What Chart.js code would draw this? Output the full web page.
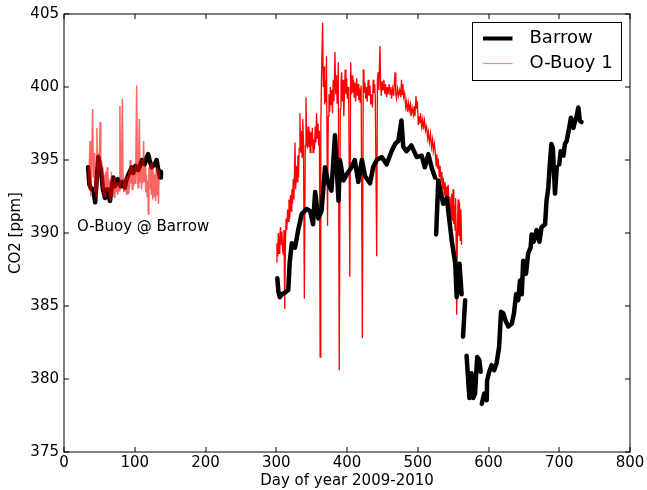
<!DOCTYPE html>
<html>
<head>
<meta charset="utf-8">
<script src="https://cdn.jsdelivr.net/npm/chart.js@4"></script>
<style>
    body { margin: 0; background: #fff; }
    #co2Chart { display: block; }
</style>
</head>
<body>
<canvas id="co2Chart" width="647" height="490"></canvas>
<script>

/* ================= DATA ================= */
const xTicks = [0, 100, 200, 300, 400, 500, 600, 700, 800];
const yTicks = [375, 380, 385, 390, 395, 400, 405];

// Barrow station, null = gap in record
const barrowDays = [
    34, 36, 39, 41.5, 44, 46, 48.5, 51, 53, 55, 58, 61, 65, 67, 69.7, 72, 76, 80, 83, 86,
    88, 91, 95.6, 98, 101, 105, 108, 110, 114, 117, 119, 122, 124, 128, 131, 133, 135.7, 137,
    200,
    301.5, 303, 305, 308, 312, 317, 319, 322, 326.5, 331, 336, 343, 348, 352, 355, 359.5,
    364, 369, 373.5, 378, 383, 388, 390, 395, 399.5, 406.5, 411, 416, 421, 425.5, 432.5,
    437, 442, 449, 456, 463, 468, 472.5, 477, 479.5, 484, 491, 498.5, 505.5, 510, 515,
    519.5, 524.5,
    525.3,
    526, 529, 536, 541, 548, 553, 555, 559, 562,
    563,
    564, 567,
    568,
    569, 573, 576, 578.5, 581, 584, 587, 589,
    589.8,
    590.5, 594, 597.5, 598, 601, 604.5, 608, 611.5, 615, 617.7, 621, 624, 628, 633, 636,
    639, 642, 644.5, 647, 649, 653, 656, 659.5, 661, 664, 668, 672, 675, 680, 682, 684.5,
    687, 689, 691, 694, 696.5,
    698,
    700, 702, 706, 708, 710.5, 714, 716.5, 720, 722, 724.5, 727, 729, 731.5
];
const barrowCO2 = [
    394.5, 393.3, 393.0, 393.0, 392.1, 393.5, 395.2, 394.6, 394.0, 393.0, 392.4, 393.0, 392.2, 393.0, 393.8, 393.2, 393.7, 393.2, 393.5, 393.1,
    393.6, 394.0, 394.5, 394.1, 394.6, 394.3, 394.7, 395.0, 394.7, 395.2, 395.4, 394.8, 394.5, 394.7, 395.0, 394.4, 393.8, 394.2,
    null,
    386.9, 386.0, 385.6, 385.8, 385.9, 386.1, 388.0, 389.3, 389.0, 390.2, 391.3, 391.65, 391.5, 390.6, 392.8, 391.0,
    391.5, 394.5, 393.4, 392.9, 396.7, 392.2, 395.0, 393.6, 394.0, 394.5, 395.0, 393.5, 395.0, 393.9, 393.4,
    394.5, 395.0, 395.2, 394.7, 395.6, 396.1, 396.3, 397.7, 395.9, 395.6, 396.0, 395.2, 395.3, 394.5, 395.4,
    394.5, 393.8,
    null,
    389.9, 393.6, 392.0, 392.4, 389.5, 387.9, 385.6, 387.9, 385.8,
    null,
    382.9, 385.4,
    null,
    381.6, 378.7, 380.4, 378.7, 379.0, 381.5, 381.3, 380.5,
    null,
    378.3, 379.0, 378.55, 379.9, 380.5, 380.95, 380.6, 381.1, 382.2, 384.6, 384.5, 384.0, 383.6, 383.8, 384.5,
    385.8, 385.4, 386.75, 385.8, 388.1, 387.2, 388.6, 389.0, 389.9, 389.4, 390.2, 389.4, 390.4, 390.6, 392.2, 393.1,
    394.95, 396.1, 395.8, 392.7, 394.5,
    null,
    394.7, 395.6, 395.3, 396.1, 396.3, 397.2, 397.9, 397.2, 397.6, 398.0, 398.6, 397.7, 397.6
];

// O-Buoy 1 while co-located at Barrow
const buoyBarrowDays = [
    34, 35, 36, 37, 38, 39, 40.5, 41.5, 42.5, 43.5, 44.5, 45.5, 46.5, 47.5, 48.5, 49.5, 51, 52, 53, 54,
    55, 56, 57, 58, 59, 60, 61, 62, 63, 64, 65, 66, 67, 68, 69, 70, 71, 72, 73, 74,
    75, 76, 77, 78, 79, 80, 81, 82.5, 83.5, 84.5, 85.5, 86.5, 87.5, 88.5, 89.5, 90.5, 91.5, 92.5, 93.5, 94.5,
    95.5, 96.5, 97.5, 98.5, 99.5, 100.5, 101.5, 102.7, 103.7, 104.7, 105.7, 106.5, 107.5, 108.5, 109.5, 110.5, 111.5, 112.5, 113.5, 114.5,
    115.5, 116.5, 117.5, 118.5, 119.2, 120, 121.5, 122.5, 123.5, 124.5, 125.5, 126.5, 127.5, 128.5, 129.5, 130.5, 131.5, 132.5, 133.5, 134.5,
    135.7
];
const buoyBarrowCO2 = [
    394.5, 393.0, 395.0, 396.3, 392.5, 394.5, 398.5, 393.8, 395.5, 392.8, 394.0, 392.5, 397.2, 393.0, 395.5, 393.8, 397.6, 394.2, 395.0, 393.0,
    394.5, 392.5, 394.0, 392.5, 394.2, 393.0, 394.5, 392.8, 393.8, 392.4, 393.6, 392.2, 394.2, 392.6, 393.5, 392.5, 393.8, 392.4, 393.4, 392.8,
    393.5, 392.6, 393.4, 392.9, 398.7, 393.0, 393.6, 399.2, 393.4, 392.8, 393.8, 392.9, 393.8, 392.6, 393.9, 392.7, 394.2, 393.0, 395.0, 393.4,
    394.5, 393.0, 394.6, 393.2, 394.5, 393.4, 394.8, 400.1, 394.0, 393.1, 395.5, 397.8, 393.5, 394.5, 393.0, 395.0, 393.4, 396.3, 393.5, 394.6,
    392.8, 394.0, 392.5, 393.6, 391.3, 394.5, 393.0, 394.8, 392.6, 394.8, 392.3, 394.2, 392.5, 394.0, 392.2, 394.5, 392.6, 394.4, 392.0, 394.3,
    393.8
];

// O-Buoy 1 deployed on the ice
const buoyIceDays = [
    300, 301, 302, 303, 304, 305, 306, 307, 308, 309, 310, 311, 312, 313, 314, 315, 316, 317, 318, 319,
    320, 321, 322, 323, 324, 325, 326.5, 327.5, 328.5, 329.5, 330.5, 331.5, 332.5, 333.5, 334.5, 335.5, 336.5, 337.5, 338.5, 339.7,
    341, 342, 343, 344, 345, 346, 347, 348, 349, 350, 351, 352, 353, 354, 355, 356, 357, 358, 359, 360,
    361, 362, 363, 364, 365.5, 366.5, 367.5, 368.5, 369.5, 370.5, 371, 372.5, 373.5, 374.5, 375.5, 376.5, 377.5, 378.5, 379.5, 380.5,
    381.5, 383, 384, 385, 386, 387, 387.7, 389, 390.5, 391.5, 392.5, 393.5, 394.5, 395.5, 396.5, 397.5, 398.5, 399.5, 400.5, 401.5,
    402.5, 404, 405.2, 406.2, 407.2, 408.2, 409.2, 410.2, 411.2, 412.2, 413.7, 414.7, 415.7, 416.7, 417.7, 418.7, 420, 421.7, 423, 424,
    425.4, 426.5, 427.5, 428.5, 430, 431, 432.5, 433.5, 435, 436, 437, 438, 439, 440, 442, 443, 444, 445, 446.6, 447.6,
    448.5, 449.5, 451, 452, 453.5, 454.5, 456, 457, 458, 459.5, 460.8, 462, 463, 464.5, 466, 467, 468, 469, 470, 471.5,
    473, 474.5, 476, 477, 478, 479, 480, 481.5, 483, 484.4, 485.5, 487, 488, 489.5, 490.5, 492, 493.7, 495, 496, 497.5,
    498.5, 499.5, 500.8, 502, 503, 504, 505.5, 507, 508, 509.5, 511, 512.5, 514, 515, 516.5, 518, 519.5, 521, 522, 523.5,
    524.5, 526, 527, 528, 529, 530.5, 531.5, 533, 534, 535, 536, 537.5, 538.5, 540, 541, 542, 543, 544.5, 545.5, 547,
    548, 549, 550, 551, 552, 552.7, 553.5, 554.3, 555, 556, 557, 558, 559, 560, 561, 562
];
const buoyIceCO2 = [
    388.0, 389.3, 388.4, 390.0, 388.6, 389.6, 390.4, 389.2, 390.1, 388.8, 388.5, 390.2, 384.8, 389.5, 391.0, 390.2, 391.6, 390.8, 392.3, 391.0,
    392.6, 391.5, 393.0, 392.0, 393.7, 392.3, 396.2, 393.0, 394.6, 393.5, 395.3, 393.8, 395.8, 398.2, 395.5, 397.0, 395.2, 397.8, 396.3, 385.5,
    396.0, 399.3, 396.5, 395.8, 397.3, 395.9, 397.0, 395.5, 396.9, 396.0, 397.2, 395.5, 396.4, 395.7, 397.3, 396.2, 398.2, 396.5, 397.5, 396.0,
    397.0, 381.5, 397.2, 400.8, 404.4, 400.0, 401.4, 398.8, 400.5, 399.0, 402.1, 390.5, 398.0, 399.5, 398.3, 400.0, 398.8, 399.8, 398.2, 400.5,
    399.0, 402.4, 399.5, 400.8, 398.9, 400.2, 401.7, 380.6, 398.5, 400.3, 401.0, 399.0, 400.5, 398.0, 399.8, 401.2, 399.5, 400.6, 399.2, 400.0,
    398.8, 387.0, 401.7, 399.5, 400.8, 399.6, 400.5, 399.3, 400.3, 399.0, 400.6, 399.4, 400.2, 399.1, 399.9, 398.9, 400.1, 382.8, 401.2, 399.6,
    400.3, 399.2, 400.0, 399.0, 400.5, 399.4, 400.1, 398.8, 399.5, 398.6, 400.5, 399.6, 400.2, 399.3, 388.4, 400.5, 401.0, 399.8, 402.8, 400.0,
    399.4, 400.4, 399.8, 400.5, 399.5, 400.2, 399.3, 400.0, 399.5, 400.2, 399.5, 400.0, 399.2, 399.9, 399.4, 400.3, 401.0, 399.5, 399.2, 399.9,
    399.4, 399.8, 399.3, 400.5, 399.5, 400.2, 399.3, 399.6, 398.6, 399.0, 398.3, 398.9, 398.4, 398.8, 398.0, 398.6, 398.1, 398.7, 398.0, 399.4,
    398.5, 399.0, 397.4, 398.0, 397.5, 398.2, 397.3, 397.8, 397.1, 397.7, 397.0, 397.3, 396.5, 396.9, 396.2, 396.8, 395.9, 396.4, 395.6, 396.1,
    395.7, 394.6, 395.4, 394.4, 395.1, 393.8, 394.6, 393.5, 394.2, 393.0, 393.8, 392.6, 393.5, 392.4, 393.2, 391.8, 393.3, 391.6, 392.5, 391.0,
    392.7, 390.8, 393.0, 390.6, 391.9, 390.2, 392.4, 389.5, 384.4, 390.0, 392.3, 389.8, 392.1, 389.5, 391.6, 389.2
];

const annotationText = "O-Buoy @ Barrow";
const legendLabels = ["Barrow", "O-Buoy 1"];

/* ================= HELPERS ================= */
function toPoints(days, values) {
    return days.map((d, i) => ({ x: d, y: values[i] }));
}

const FONT = "'DejaVu Sans', sans-serif";

/* ================= FRAME, TICKS, LEGEND, NOTE ================= */
const decorPlugin = {
    id: "decor",
    afterDraw(chart) {
        const { ctx, chartArea } = chart;
        const xs = chart.scales.x;
        const ys = chart.scales.y;
        const L = chartArea.left, R = chartArea.right, T = chartArea.top, B = chartArea.bottom;

        ctx.save();
        ctx.strokeStyle = "#000";
        ctx.lineWidth = 1;
        ctx.strokeRect(L, T, R - L, B - T);

        // inward ticks on all four sides
        ctx.beginPath();
        xTicks.forEach(v => {
            const px = Math.round(xs.getPixelForValue(v));
            ctx.moveTo(px, B); ctx.lineTo(px, B - 5);
            ctx.moveTo(px, T); ctx.lineTo(px, T + 5);
        });
        yTicks.forEach(v => {
            const py = Math.round(ys.getPixelForValue(v));
            ctx.moveTo(L, py); ctx.lineTo(L + 5, py);
            ctx.moveTo(R, py); ctx.lineTo(R - 5, py);
        });
        ctx.stroke();

        // annotation
        ctx.fillStyle = "#000";
        ctx.font = "15px " + FONT;
        ctx.textAlign = "left";
        ctx.textBaseline = "middle";
        ctx.fillText(annotationText, xs.getPixelForValue(18.5), ys.getPixelForValue(390.4));

        // legend box
        const bx = R - 157.5, by = T + 8.5, bw = 149, bh = 58;
        ctx.fillStyle = "#fff";
        ctx.fillRect(bx, by, bw, bh);
        ctx.strokeStyle = "#000";
        ctx.lineWidth = 1;
        ctx.strokeRect(bx, by, bw, bh);

        ctx.beginPath();
        ctx.strokeStyle = "#000";
        ctx.lineWidth = 4;
        ctx.moveTo(bx + 10.5, by + 16); ctx.lineTo(bx + 40, by + 16);
        ctx.stroke();

        ctx.beginPath();
        ctx.strokeStyle = "rgba(255,0,0,0.5)";
        ctx.lineWidth = 1.2;
        ctx.moveTo(bx + 10.5, by + 41); ctx.lineTo(bx + 40, by + 41);
        ctx.stroke();

        ctx.fillStyle = "#000";
        ctx.font = "18px " + FONT;
        ctx.fillText(legendLabels[0], bx + 57, by + 16);
        ctx.fillText(legendLabels[1], bx + 57, by + 41);
        ctx.restore();
    }
};

/* ================= CHART ================= */
new Chart(document.getElementById("co2Chart"), {
    type: "line",
    data: {
        datasets: [
            {
                label: "O-Buoy 1 @ Barrow",
                data: toPoints(buoyBarrowDays, buoyBarrowCO2),
                borderColor: "rgba(255,0,0,0.6)",
                borderWidth: 1.5
            },
            {
                label: legendLabels[0],
                data: toPoints(barrowDays, barrowCO2),
                borderColor: "#000",
                borderWidth: 4.5,
                borderJoinStyle: "round",
                borderCapStyle: "round"
            },
            {
                label: legendLabels[1],
                data: toPoints(buoyIceDays, buoyIceCO2),
                borderColor: "#ff0000",
                borderWidth: 1.3
            }
        ]
    },
    options: {
        responsive: false,
        animation: false,
        spanGaps: false,
        elements: { point: { radius: 0, hoverRadius: 0 }, line: { tension: 0 } },
        layout: { padding: { top: 13, right: 17, left: 0, bottom: 0 } },
        plugins: { legend: { display: false }, tooltip: { enabled: false } },
        scales: {
            x: {
                type: "linear",
                min: xTicks[0],
                max: xTicks[xTicks.length - 1],
                afterBuildTicks: s => { s.ticks = xTicks.map(v => ({ value: v })); },
                afterFit: s => { s.height = 38; },
                grid: { display: false, drawTicks: false },
                border: { display: false },
                ticks: { color: "#000", padding: 2, maxRotation: 0, font: { family: FONT, size: 15 } },
                title: {
                    display: true,
                    text: "Day of year 2009-2010",
                    color: "#000",
                    padding: { top: 0, bottom: 0 },
                    font: { family: FONT, size: 15 }
                }
            },
            y: {
                type: "linear",
                min: yTicks[0],
                max: yTicks[yTicks.length - 1],
                afterBuildTicks: s => { s.ticks = yTicks.map(v => ({ value: v })); },
                afterFit: s => { s.width = 64; },
                grid: { display: false, drawTicks: false },
                border: { display: false },
                ticks: { color: "#000", padding: 5, font: { family: FONT, size: 15 } },
                title: {
                    display: true,
                    text: "CO2 [ppm]",
                    color: "#000",
                    padding: { top: 7, bottom: 0 },
                    font: { family: FONT, size: 15 }
                }
            }
        }
    },
    plugins: [decorPlugin]
});

</script>
</body>
</html>
